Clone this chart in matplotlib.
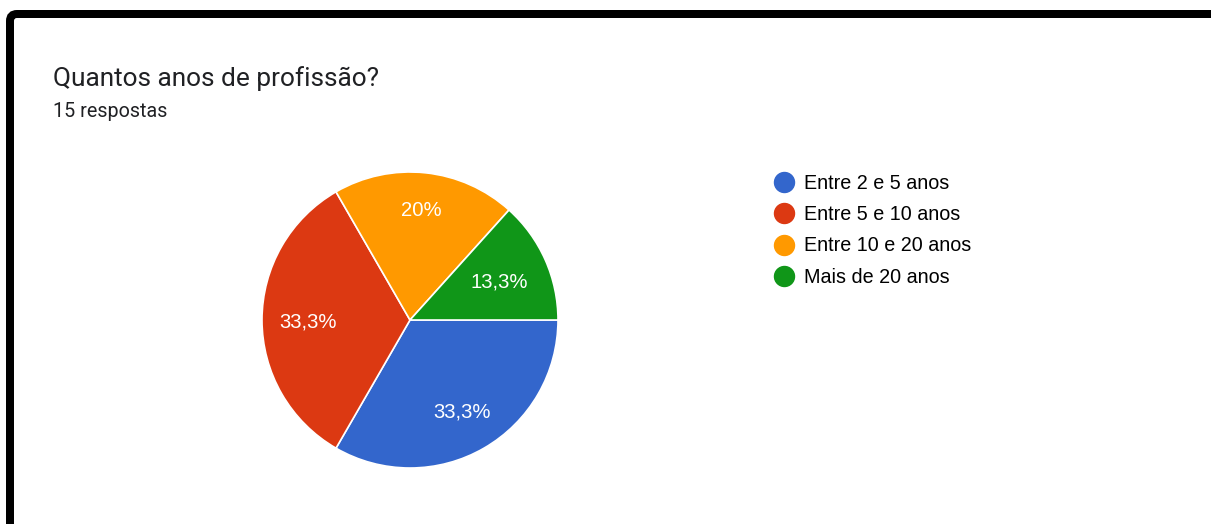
import numpy as np
import matplotlib.pyplot as plt
from matplotlib.patches import FancyBboxPatch
from matplotlib.lines import Line2D
from matplotlib.transforms import IdentityTransform

# respostas do formulario
categorias = ['Entre 2 e 5 anos', 'Entre 5 e 10 anos', 'Entre 10 e 20 anos', 'Mais de 20 anos']
respostas = [5, 5, 3, 2]
titulo = 'Quantos anos de profissão?'
subtitulo = '15 respostas'

cores = ['#3366cc', '#dc3912', '#ff9900', '#109618']
# distancia do rotulo ao centro, por fatia
dist_rotulo = [0.70, 0.69, 0.76, 0.66]

W, H = 1211, 524
fig = plt.figure(figsize=(W / 100, H / 100), dpi=100)
fig.patch.set_facecolor('white')

# moldura preta (so topo e lado esquerdo aparecem)
moldura = FancyBboxPatch((10, -60), 1400, H - 14 + 60,
                         boxstyle='round,pad=0,rounding_size=7',
                         transform=IdentityTransform(), fill=False,
                         ec='black', lw=8 * 0.72)
fig.add_artist(moldura)

fig.text(53 / W, 1 - 86 / H, titulo, fontsize=18.9, family='Roboto',
         color='#202124', ha='left', va='baseline')
fig.text(53 / W, 1 - 117 / H, subtitulo, fontsize=14.2, family='Roboto',
         color='#202124', ha='left', va='baseline')

ax = fig.add_axes([262 / W, 56 / H, 296 / W, 296 / H])


def fmt_pct(p):
    s = '%.1f' % p
    if s.endswith('.0'):
        s = s[:-2]
    return s.replace('.', ',') + '%'


total = sum(respostas)
wedges, _ = ax.pie(respostas, colors=cores, startangle=0, counterclock=False,
                   wedgeprops=dict(edgecolor='white', linewidth=1.2))
ax.set_xlim(-1, 1)
ax.set_ylim(-1, 1)
ax.set_aspect('equal')

for w, n, r in zip(wedges, respostas, dist_rotulo):
    ang = np.deg2rad((w.theta1 + w.theta2) / 2)
    ax.text(r * np.cos(ang), r * np.sin(ang), fmt_pct(100 * n / total),
            color='white', fontsize=14.6, family='Liberation Sans',
            ha='center', va='center_baseline')

handles = [Line2D([], [], marker='o', ls='', markersize=14.4,
                  markerfacecolor=c, markeredgecolor=c) for c in cores]
fig.legend(handles, categorias, loc='upper left',
           bbox_to_anchor=(775 / W, 1 - 174 / H), frameon=False,
           borderpad=0, borderaxespad=0, handlelength=0.95,
           handletextpad=0.5, labelspacing=0.62,
           prop=dict(family='Liberation Sans', size=14.2))

fig.savefig('out.png', dpi=100)
